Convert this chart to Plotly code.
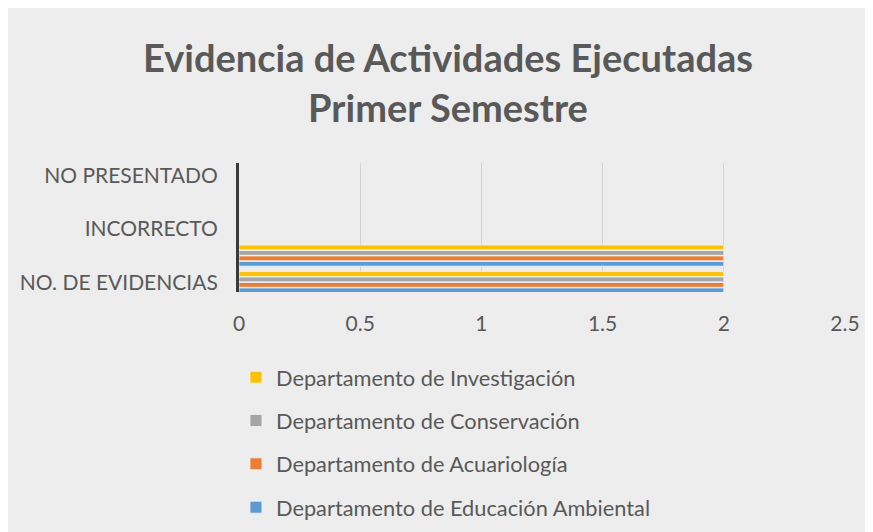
import plotly.graph_objects as go

# Categories on the y axis (blank ones are unlabeled rows in the source chart)
categories = ["NO. DE EVIDENCIAS", " ", "INCORRECTO", "  ", "NO PRESENTADO"]
tick_labels = ["NO. DE EVIDENCIAS", "INCORRECTO", "NO PRESENTADO"]
bar_rows = ["NO. DE EVIDENCIAS", " "]

departments = [
    "Departamento de Educación Ambiental",
    "Departamento de Acuariología",
    "Departamento de Conservación",
    "Departamento de Investigación",
]
values = {
    "Departamento de Educación Ambiental": [2, 2],
    "Departamento de Acuariología": [2, 2],
    "Departamento de Conservación": [2, 2],
    "Departamento de Investigación": [2, 2],
}
colors = ["#5b9bd5", "#ed7d31", "#a5a5a5", "#ffc000"]

x_ticks = [0, 0.5, 1, 1.5, 2, 2.5]

text_color = "#595959"
bg = "#ededed"

fig = go.Figure()
for i, dep in enumerate(departments):
    fig.add_trace(go.Bar(
        y=bar_rows, x=values[dep], name=dep, orientation="h",
        marker=dict(color=colors[i], line=dict(color="#f4f4f4", width=0.8)),
        legendgroup=dep, legendrank=len(departments) - i,
    ))

fig.update_layout(
    width=873, height=532,
    paper_bgcolor=bg, plot_bgcolor=bg,
    font=dict(family="Lato, 'Open Sans', sans-serif", color=text_color),
    margin=dict(l=224, r=36, t=155, b=244),
    barmode="group", bargap=0.18, bargroupgap=0.12,
    title=dict(
        text="<b>Evidencia de Actividades Ejecutadas<br>Primer Semestre</b>",
        x=0.504, xanchor="center", y=0.879, yanchor="middle",
        font=dict(size=38, color=text_color),
    ),
    xaxis=dict(
        range=[0, 2.5], tickvals=x_ticks, ticktext=[str(t) for t in x_ticks],
        showgrid=True, gridcolor="#d4d4d4", gridwidth=1,
        zeroline=False, showline=False, ticks="",
        tickfont=dict(size=21, color=text_color), ticklabelstandoff=17,
    ),
    yaxis=dict(
        type="category", categoryorder="array", categoryarray=categories,
        tickvals=tick_labels, ticktext=tick_labels,
        range=[-0.37, 4.49], showgrid=False, zeroline=False,
        showline=True, linecolor="#3a3a3a", linewidth=3,
        ticks="", tickfont=dict(size=21, color=text_color),
        ticklabelstandoff=14,
    ),
    legend=dict(
        x=-0.005, xanchor="left", y=-0.5, yanchor="top",
        traceorder="grouped", tracegroupgap=12,
        font=dict(size=21.8, color=text_color), bgcolor="rgba(0,0,0,0)",
        itemwidth=30,
    ),
    showlegend=True,
)

fig.write_html("out.html")
